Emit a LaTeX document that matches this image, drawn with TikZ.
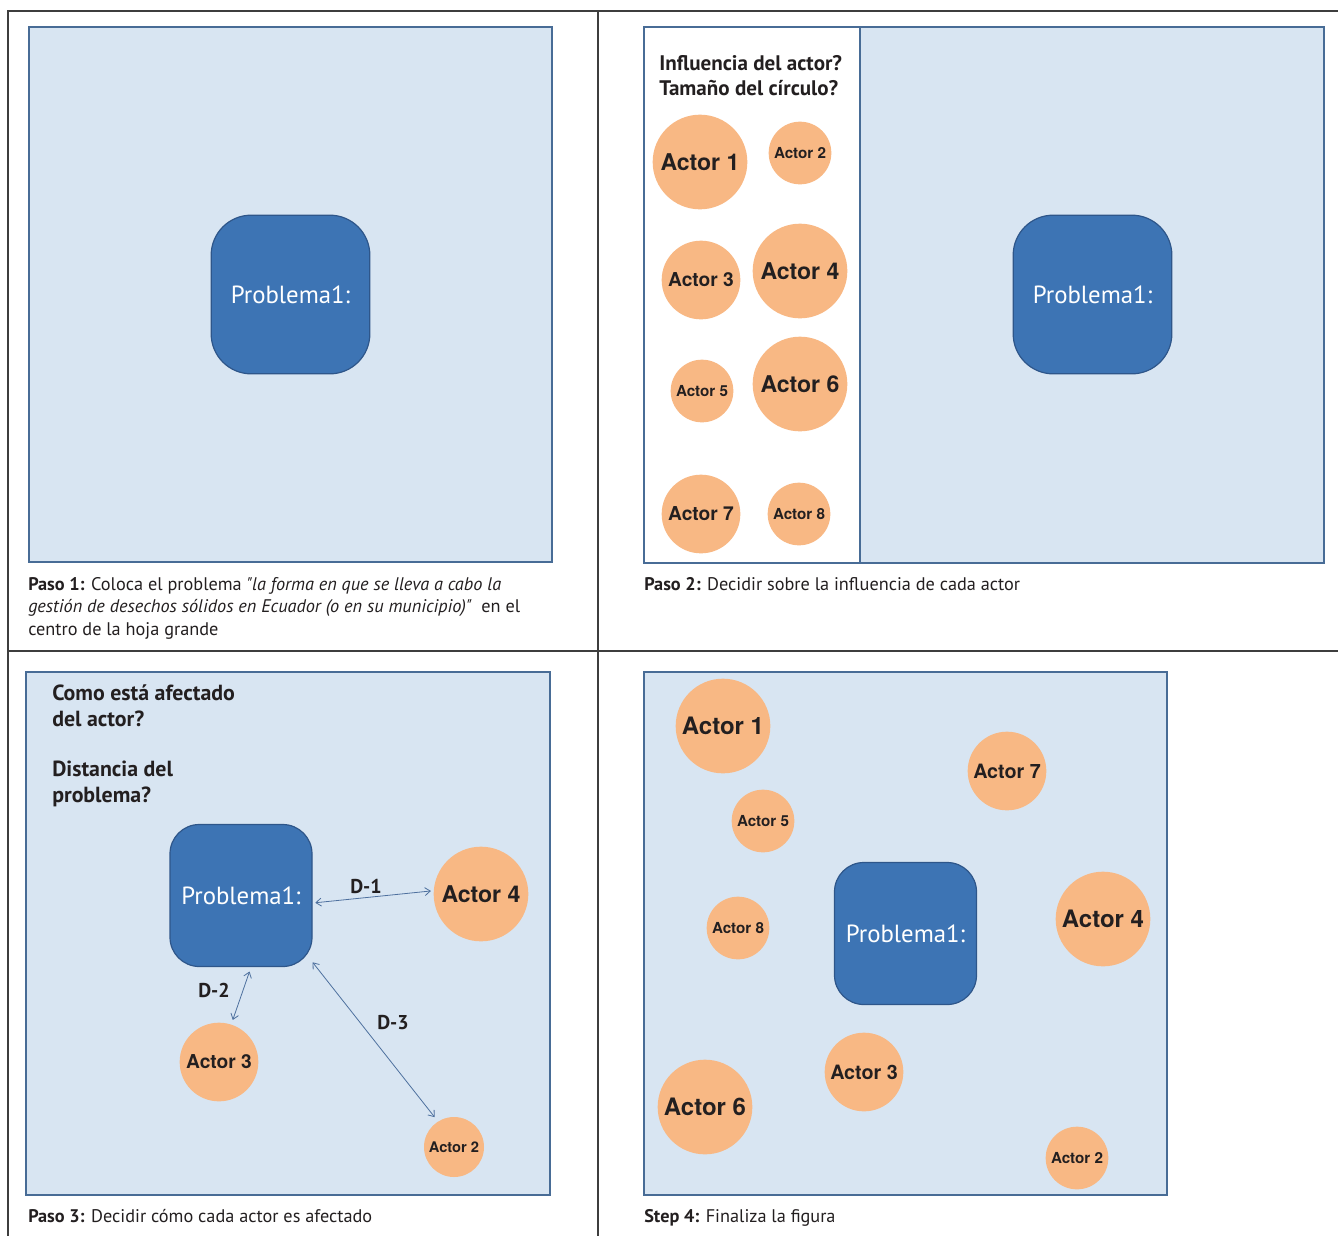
\documentclass[tikz,border=0pt]{standalone}
\usepackage{fontspec}
\setmainfont{PT Sans}
\newfontfamily\captionfont{PT Sans}
\newfontfamily\actorfont{TeX Gyre Heros}
\usetikzlibrary{arrows.meta}

\definecolor{gridgray}{RGB}{62,62,62}
\definecolor{sheetfill}{RGB}{216,229,242}
\definecolor{sheetline}{RGB}{72,108,150}
\definecolor{probfill}{RGB}{61,116,180}
\definecolor{probline}{RGB}{46,86,138}
\definecolor{actorfill}{RGB}{248,184,132}
\definecolor{actortext}{RGB}{35,31,32}
\definecolor{distline}{RGB}{78,112,158}

\begin{document}
\begin{tikzpicture}[x=0.75pt,y=0.75pt,yscale=-1,
    grid/.style={draw=gridgray,line width=1.9pt},
    sheet/.style={draw=sheetline,line width=1.2pt,fill=sheetfill},
    problema/.style={draw=probline,line width=0.9pt,fill=probfill,rounded corners=30pt,
        minimum size=119pt,inner sep=0pt,text=white,font=\fontsize{18.6}{20}\selectfont},
    problemasmall/.style={problema,rounded corners=22pt,minimum size=106.5pt},
    actorL/.style={circle,fill=actorfill,inner sep=0pt,minimum size=71pt,text=actortext,
        font=\actorfont\bfseries\fontsize{17.3}{19}\selectfont},
    actorM/.style={actorL,minimum size=59pt,font=\actorfont\bfseries\fontsize{14.4}{16}\selectfont},
    actorS/.style={actorL,minimum size=47pt,font=\actorfont\bfseries\fontsize{11.4}{13}\selectfont},
    caption/.style={inner sep=0pt,align=left,text=actortext,font=\captionfont\fontsize{13.7}{16.8}\selectfont},
    question/.style={inner sep=0pt,align=left,text=actortext,font=\bfseries\fontsize{15.8}{18.75}\selectfont},
    dist/.style={<->,>={Straight Barb[length=4pt,width=6pt]},draw=distline,line width=0.6pt},
    dlabel/.style={inner sep=0pt,text=actortext,font=\bfseries\fontsize{15}{17}\selectfont}]

\useasboundingbox (0,0) rectangle (1338,1236);

% frame of the four steps
\draw[grid] (7,11) -- (1338,11);
\draw[grid] (8,11) -- (8,1236);
\draw[grid] (598,11) -- (598,1236);
\draw[grid] (8,651) -- (1338,651);

% Paso 1
\draw[sheet] (29,27) rectangle (552,562);
\node[problema] (p1) at (290.5,294.5) {Problema1:};
\node[caption,anchor=base west] (cap1) at (28,635) {\textbf{Paso 1:} Coloca el problema \textit{"la forma en que se lleva a cabo la}\\
    \textit{gestión de desechos sólidos en Ecuador (o en su municipio)"}\ \ en el\\
    centro de la hoja grande};

% Paso 2
\draw[sheet,fill=white] (644,27) rectangle (860,563);
\draw[sheet] (860,27) rectangle (1324,563);
\node[question,anchor=base west] (q2) at (659,95) {Influencia del actor?\\Tamaño del círculo?};
\node[actorL] (s2a1) at (700,162) {Actor 1};
\node[actorS] (s2a2) at (800,153) {Actor 2};
\node[actorM] (s2a3) at (701,280) {Actor 3};
\node[actorL] (s2a4) at (800,271) {Actor 4};
\node[actorS] (s2a5) at (702,391) {Actor 5};
\node[actorL] (s2a6) at (800,384) {Actor 6};
\node[actorM] (s2a7) at (701,514) {Actor 7};
\node[actorS] (s2a8) at (799,514) {Actor 8};
\node[problema] (p2) at (1092.5,294.5) {Problema1:};
\node[caption,anchor=base west] (cap2) at (644,590) {\textbf{Paso 2:} Decidir sobre la influencia de cada actor};

% Paso 3
\draw[sheet] (26,672) rectangle (550,1195);
\node[question,anchor=base west,font=\bfseries\fontsize{16.4}{19.2}\selectfont] (q3a) at (52,726) {Como está afectado\\del actor?};
\node[question,anchor=base west,font=\bfseries\fontsize{16.4}{19.2}\selectfont] (q3b) at (52,802) {Distancia del\\problema?};
\node[problemasmall] (p3) at (241,895.5) {Problema1:};
\node[actorL] (s3a4) at (481,894) {Actor 4};
\node[actorM] (s3a3) at (219,1062) {Actor 3};
\node[actorS,minimum size=45pt,font=\actorfont\bfseries\fontsize{11}{13}\selectfont] (s3a2) at (454,1147) {Actor 2};
\draw[dist,shorten <=2pt,shorten >=2pt] (p3.-6) -- (s3a4.176);
\draw[dist,shorten <=3.5pt,shorten >=3.5pt] (p3.-82) -- (s3a3.72);
\draw[dist,shorten >=4pt] (p3.-43) -- (s3a2.122);
\node[dlabel,anchor=base west] (d1) at (350,893) {D-1};
\node[dlabel,anchor=base west] (d2) at (198,997) {D-2};
\node[dlabel,anchor=base west] (d3) at (377,1029) {D-3};
\node[caption,anchor=base west] (cap3) at (28,1222) {\textbf{Paso 3:} Decidir cómo cada actor es afectado};

% Step 4
\draw[sheet] (644,672) rectangle (1167,1195);
\node[problemasmall] (p4) at (905.5,933.5) {Problema1:};
\node[actorL,font=\actorfont\bfseries\fontsize{18}{20}\selectfont] (s4a1) at (723,726) {Actor 1};
\node[actorM,font=\actorfont\bfseries\fontsize{14.8}{16}\selectfont] (s4a7) at (1007,771) {Actor 7};
\node[actorS] (s4a5) at (763,821) {Actor 5};
\node[actorS] (s4a8) at (738,928) {Actor 8};
\node[actorL,font=\actorfont\bfseries\fontsize{18}{20}\selectfont] (s4a4) at (1103,919) {Actor 4};
\node[actorM,font=\actorfont\bfseries\fontsize{14.8}{16}\selectfont] (s4a3) at (864,1072) {Actor 3};
\node[actorL,font=\actorfont\bfseries\fontsize{18}{20}\selectfont] (s4a6) at (705,1107) {Actor 6};
\node[actorS] (s4a2) at (1077,1158) {Actor 2};
\node[caption,anchor=base west] (cap4) at (644,1222) {\textbf{Step 4:} Finaliza la figura};

\end{tikzpicture}
\end{document}
